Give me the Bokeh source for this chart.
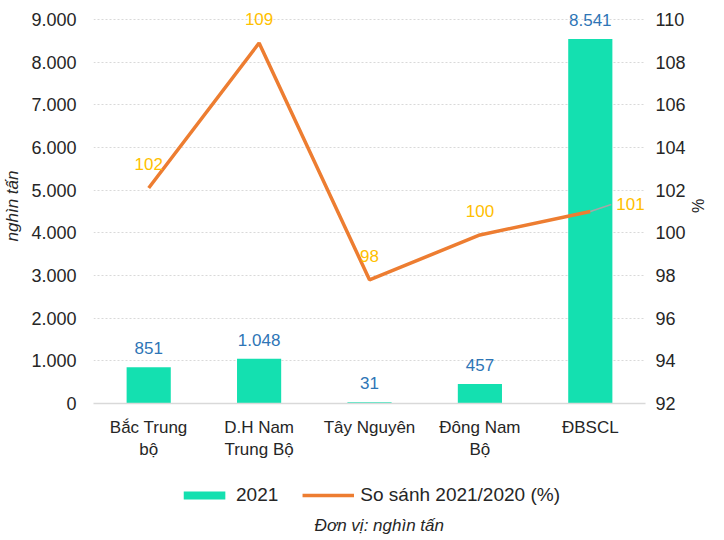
from bokeh.plotting import figure
from bokeh.models import (Range1d, LinearAxis, FixedTicker, Legend, LegendItem,
                          ColumnDataSource)
from bokeh.layouts import column
from bokeh.core.properties import value
from bokeh.embed import file_html
from bokeh.resources import INLINE

# ---- data ----
regions = ["Bắc Trung\nbộ", "D.H Nam\nTrung Bộ", "Tây Nguyên", "Đông Nam\nBộ", "ĐBSCL"]
output_2021 = [851, 1048, 31, 457, 8541]
ratio_pct = [102.1, 108.9, 97.8, 99.9, 101.0]
ratio_labels = ["102", "109", "98", "100", "101"]
left_ticks = [0, 1000, 2000, 3000, 4000, 5000, 6000, 7000, 8000, 9000]
right_ticks = [92, 94, 96, 98, 100, 102, 104, 106, 108, 110]
series_names = ["2021", "So sánh 2021/2020 (%)"]
unit_note = "Đơn vị: nghìn tấn"

FONT = "Liberation Sans"
BAR_C = "#14E0B0"
LINE_C = "#ED7D31"
TXT_C = "#262626"

xs = list(range(len(regions)))
bar_text = [f"{v:,}".replace(",", ".") for v in output_2021]

# frame 395 px tall, 9000 sits 11 px under the top
FH = 395
left_top = 9000 * FH / 384
right_top = 92 + 18 * FH / 384

p = figure(width=708, height=468, output_backend="svg", toolbar_location=None,
           x_range=Range1d(-0.5, len(regions) - 0.5), y_range=Range1d(0, left_top),
           min_border_left=93, min_border_right=60, min_border_top=8,
           min_border_bottom=65)
p.outline_line_color = None
p.background_fill_color = "white"
p.extra_y_ranges = {"pct": Range1d(92, right_top)}

src = ColumnDataSource(dict(x=xs, v=output_2021, r=ratio_pct, bt=bar_text, rt=ratio_labels))

bars = p.vbar(x="x", top="v", width=0.4, source=src, fill_color=BAR_C, line_color=None)
line = p.line(x="x", y="r", source=src, line_color=LINE_C, line_width=3.5,
              y_range_name="pct")

# bar labels
p.text(x="x", y="v", text="bt", source=src, text_align="center", text_baseline="bottom",
       y_offset=-13, text_font=value(FONT), text_font_size="17px", text_color="#2E75B6")

# line labels (first four above the points)
n = len(regions) - 1
lsrc = ColumnDataSource(dict(x=xs[:n], r=ratio_pct[:n], rt=ratio_labels[:n]))
p.text(x="x", y="r", text="rt", source=lsrc, text_align="center", text_baseline="middle",
       y_offset=-24, text_font=value(FONT), text_font_size="17px", text_color="#FFC000",
       y_range_name="pct")
# last label with a leader line
p.segment(x0=[xs[n]], y0=[ratio_pct[n]], x1=[xs[n] + 0.19], y1=[ratio_pct[n] + 0.33],
          line_color="#A6A6A6", line_width=1.5, y_range_name="pct")
p.text(x=[xs[n] + 0.19], y=[ratio_pct[n] + 0.33], text=[ratio_labels[n]], text_align="left",
       text_baseline="middle", x_offset=5, text_font=value(FONT), text_font_size="17px",
       text_color="#FFC000", y_range_name="pct")

# grid
p.xgrid.grid_line_color = None
p.ygrid.ticker = FixedTicker(ticks=left_ticks[1:])
p.ygrid.grid_line_color = "#D9D9D9"
p.ygrid.grid_line_dash = "2 2"
p.ygrid.grid_line_width = 1


def plain(ax):
    ax.major_tick_line_color = None
    ax.minor_tick_line_color = None
    ax.major_tick_out = 0
    ax.major_tick_in = 0
    ax.minor_tick_out = 0
    ax.minor_tick_in = 0
    ax.major_label_text_font = FONT
    ax.major_label_text_color = TXT_C
    ax.axis_label_text_font = FONT
    ax.axis_label_text_color = TXT_C


# x axis
xa = p.xaxis[0]
plain(xa)
xa.ticker = FixedTicker(ticks=xs)
xa.major_label_overrides = {i: r for i, r in enumerate(regions)}
xa.axis_line_color = "#D9D9D9"
xa.axis_line_width = 1.5
xa.major_label_standoff = 14
xa.major_label_text_font_size = "17px"

# left axis
ya = p.yaxis[0]
plain(ya)
ya.ticker = FixedTicker(ticks=left_ticks)
ya.major_label_overrides = {t: (f"{t:,}".replace(",", ".")) for t in left_ticks}
ya.axis_line_color = None
ya.major_label_standoff = 17
ya.major_label_text_font_size = "18px"
ya.axis_label = "nghìn tấn"
ya.axis_label_text_font_style = "italic"
ya.axis_label_text_font_size = "17px"
ya.axis_label_standoff = 6

# right axis
ra = LinearAxis(y_range_name="pct", ticker=FixedTicker(ticks=right_ticks))
plain(ra)
ra.axis_line_color = None
ra.major_label_standoff = 10
ra.major_label_text_font_size = "18px"
ra.axis_label = "%"
ra.axis_label_text_font_style = "normal"
ra.axis_label_text_font_size = "16px"
ra.axis_label_standoff = 0
p.add_layout(ra, "right")

# ---- strip below the chart: legend and unit note ----
p2 = figure(width=708, height=72, output_backend="svg", toolbar_location=None,
            x_range=Range1d(0, 676), y_range=Range1d(0, 72),
            min_border_left=0, min_border_top=0, min_border_bottom=0,
            min_border_right=32)
p2.axis.visible = False
p2.grid.visible = False
p2.outline_line_color = None
p2.background_fill_color = "white"

# zero-size stand-ins that only supply the legend swatches
leg_bar = p2.vbar(x=[0], top=[0], width=0, fill_color=BAR_C, line_color=None)
leg_line = p2.line(x=[0], y=[0], line_color=LINE_C, line_width=3.5)

legend = Legend(items=[LegendItem(label=series_names[0], renderers=[leg_bar]),
                       LegendItem(label=series_names[1], renderers=[leg_line])],
                orientation="horizontal", location="top_center",
                glyph_width=52, glyph_height=10, label_standoff=6, spacing=24,
                label_text_font=FONT, label_text_font_size="19px",
                label_text_color=TXT_C, border_line_color=None,
                background_fill_alpha=0, margin=16, padding=4)
p2.add_layout(legend, "center")

p2.text(x=[350], y=[15], text=[unit_note], text_align="center", text_baseline="middle",
        text_font=value(FONT), text_font_style="italic", text_font_size="17px",
        text_color=TXT_C)

layout = column(p, p2, spacing=0)
open("out.html", "w").write(file_html(layout, INLINE))
